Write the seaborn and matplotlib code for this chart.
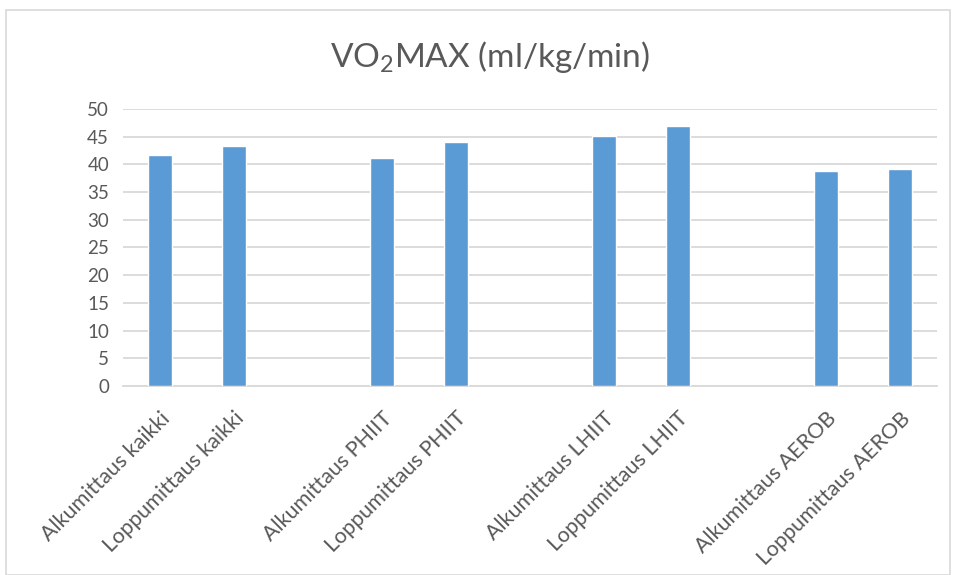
import matplotlib
matplotlib.use("Agg")
import matplotlib.pyplot as plt
import seaborn as sns
import pandas as pd
import numpy as np

# Measurement categories (spacer slots separate the training groups)
categories = [
    "Alkumittaus kaikki", "Loppumittaus kaikki", "_gap1",
    "Alkumittaus PHIIT", "Loppumittaus PHIIT", "_gap2",
    "Alkumittaus LHIIT", "Loppumittaus LHIIT", "_gap3",
    "Alkumittaus AEROB", "Loppumittaus AEROB",
]
vo2max = [41.7, 43.3, np.nan, 41.1, 44.0, np.nan, 45.1, 47.0, np.nan, 38.8, 39.2]
yticks = [0, 5, 10, 15, 20, 25, 30, 35, 40, 45, 50]

df = pd.DataFrame({"mittaus": categories, "vo2max": vo2max})

sns.set_theme(style="white")
plt.rcParams["font.family"] = ["Lato", "DejaVu Sans"]
plt.rcParams["mathtext.default"] = "regular"

text_color = "#595959"
grid_color = "#d9d9d9"

fig = plt.figure(figsize=(9.55, 5.75), dpi=100)
ax = fig.add_axes([123 / 955, 1 - 386 / 575, 814 / 955, 277 / 575])

sns.barplot(data=df, x="mittaus", y="vo2max", order=categories,
            color="#5B9BD5", width=0.32, saturation=1, ax=ax, zorder=3)

ax.set_xlim(-0.5, len(categories) - 0.5)
ax.set_ylim(0, 50)
ax.set_yticks(yticks)
ax.yaxis.grid(True, color=grid_color, linewidth=1.3, zorder=0)
ax.set_axisbelow(True)

for side in ["top", "right", "left"]:
    ax.spines[side].set_visible(False)
ax.spines["bottom"].set_color(grid_color)
ax.spines["bottom"].set_linewidth(1.3)

ax.set_xlabel("")
ax.set_ylabel("")
labels = ["" if c.startswith("_") else c for c in categories]
ax.set_xticks(range(len(categories)))
ax.set_xticklabels(labels, rotation=45, ha="right", rotation_mode="anchor",
                   fontsize=15.5, color=text_color)
ax.tick_params(axis="x", length=0, pad=16)
ax.tick_params(axis="y", length=0, pad=10, labelsize=13.5, labelcolor=text_color)

fig.text(490 / 955, 1 - 57 / 575, "VO$_2$MAX (ml/kg/min)", ha="center", va="center",
         fontsize=24, color=text_color)

# Chart frame
frame = plt.Rectangle((6 / 955, 0), 944 / 955, 1 - 10 / 575, transform=fig.transFigure,
                      fill=False, edgecolor=grid_color, linewidth=1.2)
fig.add_artist(frame)

fig.savefig("out.png", dpi=100)
